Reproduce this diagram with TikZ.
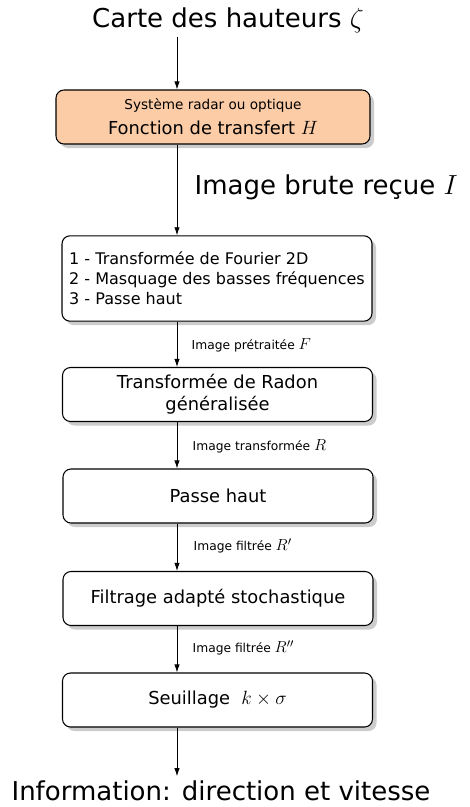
\documentclass[tikz,border=0pt]{standalone}
\usepackage{fontspec}
\setmainfont{DejaVu Sans}
\usepackage{tikz}
\usetikzlibrary{arrows.meta,positioning,shadows}

\definecolor{radarfill}{RGB}{251,204,166}
\newcommand{\lblmath}[1]{{\fontsize{12.8}{14}\selectfont$#1$}}

\begin{document}
\begin{tikzpicture}[
    x=0.75pt, y=-0.75pt,
    box/.style={rectangle, rounded corners=6pt, draw, line width=0.8pt, fill=white,
      minimum width=232.5pt, minimum height=40.5pt, align=center,
      font=\fontsize{13.4}{16.5}\selectfont,
      drop shadow={shadow xshift=3pt, shadow yshift=-3pt, fill=black!20, opacity=1}},
    big/.style={font=\fontsize{19.5}{22}\selectfont},
    lbl/.style={anchor=west, font=\fontsize{9.2}{11}\selectfont},
    arr/.style={-{Latex[length=6pt,width=4pt]}, line width=0.6pt}
  ]
    \useasboundingbox (0,0) rectangle (469,807);
    \coordinate (axis) at (177,0);

    \node[big] (carte) at (228,20) {Carte des hauteurs $\zeta$};
    \node[box, fill=radarfill, minimum width=235.5pt] (radar) at (213,117)
      {{\fontsize{10.2}{12}\selectfont Système radar ou optique}\\[2pt] Fonction de transfert $H$};
    \node[big, anchor=west] (brute) at (190,187) {Image brute reçue $I$};
    \node[box, minimum height=64pt, align=left, font=\fontsize{12}{15}\selectfont] (pretrait) at (217,278.5)
      {1 - Transformée de Fourier 2D\\2 - Masquage des basses fréquences\\3 - Passe haut};
    \node[lbl] (imgF) at (187,345) {Image prétraitée \lblmath{F}};
    \node[box] (radon) at (217.5,394.5) {Transformée de Radon\\généralisée};
    \node[lbl] (imgR) at (188,446) {Image transformée \lblmath{R}};
    \node[box] (passehaut) at (218,496) {Passe haut};
    \node[lbl] (imgR1) at (189,546) {Image filtrée \lblmath{R'}};
    \node[box] (filtrage) at (218,598.5) {Filtrage adapté stochastique};
    \node[lbl] (imgR2) at (188,648) {Image filtrée \lblmath{R''}};
    \node[box] (seuil) at (217.5,700) {Seuillage~~$k\times\sigma$};
    \node[big] (info) at (221,791) {Information: direction et vitesse};

    \draw[arr] (carte.south -| axis) -- (radar.north -| axis);
    \foreach \i/\j in {radar/pretrait,pretrait/radon,radon/passehaut,passehaut/filtrage,filtrage/seuil}
      \draw[arr] (\i.south -| axis) -- (\j.north -| axis);
    \draw[arr] (seuil.south -| axis) -- (info.north -| axis);
  \end{tikzpicture}
\end{document}
